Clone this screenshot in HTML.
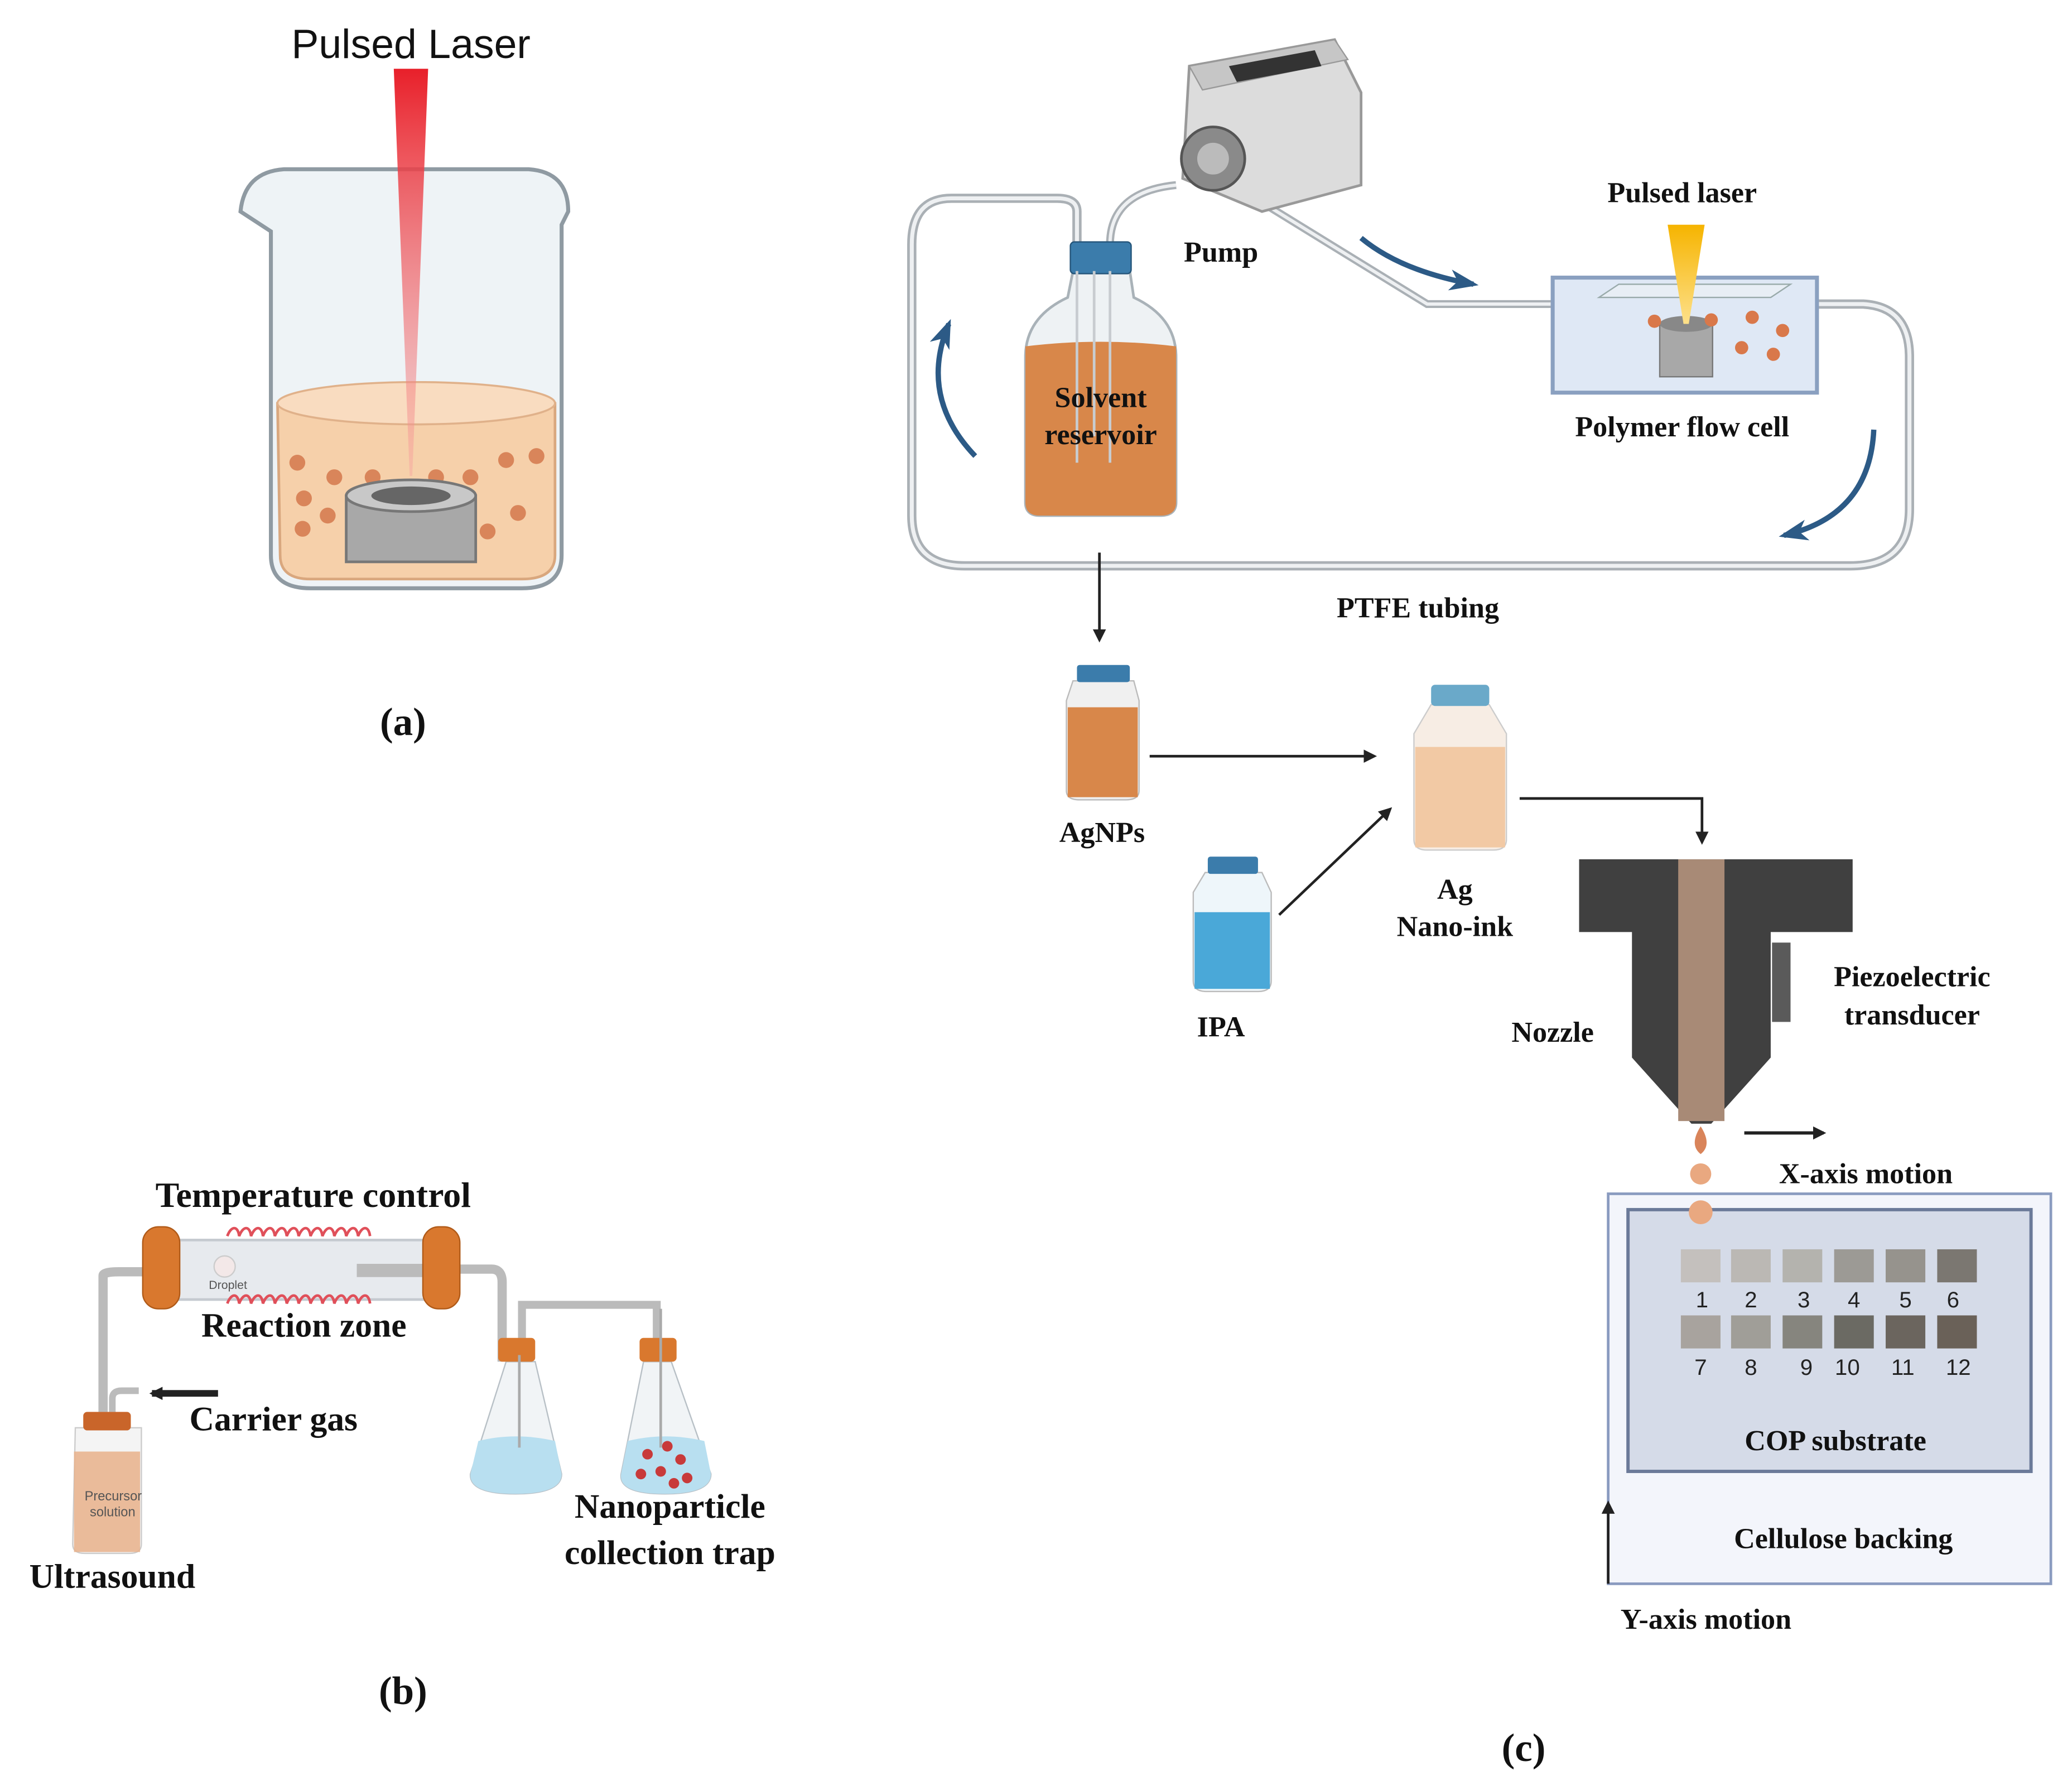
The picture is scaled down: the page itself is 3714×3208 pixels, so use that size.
<!DOCTYPE html>
<html><head><meta charset="utf-8"><style>
html,body{margin:0;padding:0;background:#fff;}
svg{display:block;}
.s{font-family:"Liberation Serif",serif;font-weight:bold;fill:#111;}
</style></head><body>
<svg width="3714" height="3208" viewBox="0 0 1568 1354" preserveAspectRatio="none" xmlns="http://www.w3.org/2000/svg">
<defs>
<marker id="ah" markerWidth="10" markerHeight="10" refX="8" refY="5" orient="auto" markerUnits="userSpaceOnUse"><path d="M0,0 L10,5 L0,10 z" fill="#222"/></marker>
<marker id="bh" markerWidth="22" markerHeight="16" refX="18" refY="8" orient="auto" markerUnits="userSpaceOnUse"><path d="M0,0 L22,8 L0,16 L6,8 z" fill="#2c5a86"/></marker>
<linearGradient id="beam" x1="0" y1="0" x2="0" y2="1"><stop offset="0" stop-color="#e8202a"/><stop offset="1" stop-color="#f6a0a0" stop-opacity="0.4"/></linearGradient>
<linearGradient id="ylaser" x1="0" y1="0" x2="0" y2="1"><stop offset="0" stop-color="#f6b400"/><stop offset="1" stop-color="#fde08a"/></linearGradient>
</defs>

<!-- (a) -->
<text x="311" y="44" font-family="Liberation Sans,sans-serif" font-size="31" text-anchor="middle" fill="#111">Pulsed Laser</text>
<path d="M182,160 Q185,130 215,128 L400,128 Q430,130 430,160 L425,170 L425,420 Q425,445 395,445 L235,445 Q205,445 205,420 L205,175 Z" fill="#eef3f6" stroke="#8f9aa2" stroke-width="3"/>
<path d="M210,305 Q310,280 420,305 L420,420 Q420,438 395,438 L235,438 Q212,438 212,420 Z" fill="#f6d0aa" stroke="#d9a77e" stroke-width="2"/>
<ellipse cx="315" cy="305" rx="105" ry="16" fill="#f9dcc0" stroke="#e0b18a" stroke-width="1.5"/>
<g fill="#d9855a"><circle cx="225" cy="350" r="6"/><circle cx="253" cy="361" r="6"/><circle cx="282" cy="361" r="6"/><circle cx="330" cy="361" r="6"/><circle cx="356" cy="361" r="6"/><circle cx="383" cy="348" r="6"/><circle cx="406" cy="345" r="6"/><circle cx="230" cy="377" r="6"/><circle cx="248" cy="390" r="6"/><circle cx="229" cy="400" r="6"/><circle cx="332" cy="410" r="6"/><circle cx="369" cy="402" r="6"/><circle cx="392" cy="388" r="6"/></g>
<rect x="262" y="375" width="98" height="50" fill="#a8a8a8" stroke="#777" stroke-width="2"/>
<ellipse cx="311" cy="375" rx="49" ry="12" fill="#c8c8c8" stroke="#777" stroke-width="2"/>
<ellipse cx="311" cy="375" rx="30" ry="7" fill="#666"/>
<polygon points="298,52 324,52 312,360 310,360" fill="url(#beam)"/>
<text x="305" y="556" class="s" font-size="30" text-anchor="middle" font-weight="normal">(<tspan font-weight="bold">a</tspan>)</text>

<!-- (b) -->
<text x="237" y="913" class="s" font-size="27" text-anchor="middle">Temperature control</text>
<path d="M78,1068 L78,965 Q78,962 90,962 L125,962" fill="none" stroke="#bbb" stroke-width="7"/>
<path d="M335,960 L372,960 Q380,960 380,970 L380,1030" fill="none" stroke="#bbb" stroke-width="7"/>
<path d="M395,1015 L395,987 L497,987 L497,1015" fill="none" stroke="#bbb" stroke-width="6"/>
<rect x="120" y="938" width="215" height="45" fill="#e7eaee" stroke="#c5cad0" stroke-width="2"/>
<rect x="270" y="956" width="60" height="10" fill="#bbb"/>
<circle cx="170" cy="958" r="8" fill="#f3e8e8" stroke="#ccc"/>
<text x="158" y="975" font-family="Liberation Sans,sans-serif" font-size="9" fill="#555">Droplet</text>
<g fill="none" stroke="#e0505a" stroke-width="2"><path d="M172,935 c3,-8 8,-8 9,0 c3,-8 8,-8 9,0 c3,-8 8,-8 9,0 c3,-8 8,-8 9,0 c3,-8 8,-8 9,0 c3,-8 8,-8 9,0 c3,-8 8,-8 9,0 c3,-8 8,-8 9,0 c3,-8 8,-8 9,0 c3,-8 8,-8 9,0 c3,-8 8,-8 9,0 c3,-8 8,-8 9,0"/><path d="M172,986 c3,-8 8,-8 9,0 c3,-8 8,-8 9,0 c3,-8 8,-8 9,0 c3,-8 8,-8 9,0 c3,-8 8,-8 9,0 c3,-8 8,-8 9,0 c3,-8 8,-8 9,0 c3,-8 8,-8 9,0 c3,-8 8,-8 9,0 c3,-8 8,-8 9,0 c3,-8 8,-8 9,0 c3,-8 8,-8 9,0"/></g>
<rect x="108" y="928" width="28" height="62" rx="12" fill="#d9782e" stroke="#b05a18"/>
<rect x="320" y="928" width="28" height="62" rx="12" fill="#d9782e" stroke="#b05a18"/>
<text x="230" y="1011" class="s" font-size="26" text-anchor="middle">Reaction zone</text>
<path d="M85,1068 L85,1058 Q85,1052 92,1052 L105,1052" fill="none" stroke="#bbb" stroke-width="5"/>
<line x1="165" y1="1054" x2="115" y2="1054" stroke="#222" stroke-width="5" marker-end="url(#ah)"/>
<text x="207" y="1082" class="s" font-size="26" text-anchor="middle">Carrier gas</text>
<path d="M57,1080 L107,1080 L107,1168 Q107,1175 98,1175 L64,1175 Q55,1175 55,1168 Z" fill="#f4f4f4" stroke="#ccc"/>
<rect x="56" y="1098" width="50" height="76" fill="#e8b08a" opacity="0.85"/>
<rect x="63" y="1068" width="36" height="14" rx="3" fill="#c9652a"/>
<text x="64" y="1135" font-family="Liberation Sans,sans-serif" font-size="10" fill="#555">Precursor</text>
<text x="68" y="1147" font-family="Liberation Sans,sans-serif" font-size="10" fill="#555">solution</text>
<text x="85" y="1201" class="s" font-size="26" text-anchor="middle">Ultrasound</text>
<path d="M383,1030 L405,1030 L425,1115 Q425,1130 390,1130 Q355,1130 356,1115 Z" fill="#f1f4f6" stroke="#b8c0c6"/>
<path d="M362,1090 Q390,1083 420,1090 L425,1115 Q425,1130 390,1130 Q355,1130 356,1115 Z" fill="#b8dff0"/>
<rect x="377" y="1012" width="28" height="18" rx="3" fill="#d9782e"/>
<path d="M487,1030 L508,1030 L538,1115 Q538,1130 503,1130 Q468,1130 470,1115 Z" fill="#f1f4f6" stroke="#b8c0c6"/>
<path d="M475,1090 Q503,1083 533,1090 L538,1115 Q538,1130 503,1130 Q468,1130 470,1115 Z" fill="#b8dff0"/>
<rect x="484" y="1012" width="28" height="18" rx="3" fill="#d9782e"/>
<g fill="#c83a3a"><circle cx="490" cy="1100" r="4"/><circle cx="505" cy="1094" r="4"/><circle cx="515" cy="1104" r="4"/><circle cx="485" cy="1115" r="4"/><circle cx="500" cy="1113" r="4"/><circle cx="520" cy="1118" r="4"/><circle cx="510" cy="1122" r="4"/></g>
<line x1="393" y1="1025" x2="393" y2="1095" stroke="#aaa" stroke-width="2"/><line x1="500" y1="990" x2="500" y2="1095" stroke="#aaa" stroke-width="2"/>
<text x="507" y="1148" class="s" font-size="26" text-anchor="middle">Nanoparticle</text>
<text x="507" y="1183" class="s" font-size="26" text-anchor="middle">collection trap</text>
<text x="305" y="1289" class="s" font-size="30" text-anchor="middle" font-weight="normal">(<tspan font-weight="bold">b</tspan>)</text>

<!-- (c) loop tubing -->
<path d="M815,185 L815,160 Q815,150 800,150 L720,150 Q690,150 690,185 L690,390 Q690,428 730,428 L1400,428 Q1445,428 1445,385 L1445,270 Q1445,232 1410,230 L1375,230" fill="none" stroke="#aab0b5" stroke-width="7"/>
<path d="M815,185 L815,160 Q815,150 800,150 L720,150 Q690,150 690,185 L690,390 Q690,428 730,428 L1400,428 Q1445,428 1445,385 L1445,270 Q1445,232 1410,230 L1375,230" fill="none" stroke="#eef0f2" stroke-width="3"/>
<path d="M840,185 Q840,145 890,140 M950,150 L1080,230 L1175,230" fill="none" stroke="#aab0b5" stroke-width="6"/>
<path d="M840,185 Q840,145 890,140 M950,150 L1080,230 L1175,230" fill="none" stroke="#eef0f2" stroke-width="2.5"/>
<!-- pump -->
<path d="M900,50 L1010,30 L1030,70 L1030,140 L955,160 L895,135 Z" fill="#dcdcdc" stroke="#999" stroke-width="2"/>
<path d="M900,50 L1010,30 L1020,45 L910,68 Z" fill="#c6c6c6" stroke="#999"/>
<path d="M930,50 L995,38 L1000,50 L936,62 Z" fill="#333"/>
<circle cx="918" cy="120" r="24" fill="#8a8a8a" stroke="#555" stroke-width="2"/>
<circle cx="918" cy="120" r="12" fill="#bbb"/>
<text x="924" y="198" class="s" font-size="22" text-anchor="middle">Pump</text>
<!-- blue arrows -->
<path d="M1030,180 Q1060,205 1115,215" fill="none" stroke="#2c5a86" stroke-width="4" marker-end="url(#bh)"/>
<path d="M738,345 Q695,300 718,245" fill="none" stroke="#2c5a86" stroke-width="4" marker-end="url(#bh)"/>
<path d="M1418,325 Q1415,390 1350,405" fill="none" stroke="#2c5a86" stroke-width="4" marker-end="url(#bh)"/>
<!-- solvent bottle -->
<path d="M812,205 L855,205 L858,225 Q890,240 890,270 L890,380 Q890,390 878,390 L787,390 Q776,390 776,380 L776,270 Q776,240 808,225 Z" fill="#eef2f4" stroke="#a9b2b8" stroke-width="2"/>
<path d="M776,262 Q833,255 890,262 L890,380 Q890,390 878,390 L787,390 Q776,390 776,380 Z" fill="#d8874a"/>
<rect x="810" y="183" width="46" height="24" rx="3" fill="#3b7cab" stroke="#24557a"/>
<path d="M815,205 L815,350 M828,205 L828,330 M840,205 L840,350" stroke="#c8ccd0" stroke-width="2" fill="none"/>
<text x="833" y="308" class="s" font-size="22" text-anchor="middle">Solvent</text>
<text x="833" y="336" class="s" font-size="22" text-anchor="middle">reservoir</text>
<!-- flow cell -->
<rect x="1175" y="210" width="200" height="87" fill="#dfe8f5" stroke="#8aa0c0" stroke-width="3"/>
<polygon points="1210,225 1340,225 1355,215 1225,215" fill="#e8eef5" stroke="#9aa"/>
<rect x="1256" y="245" width="40" height="40" fill="#a8a8a8" stroke="#777"/>
<ellipse cx="1276" cy="245" rx="20" ry="6" fill="#888"/>
<polygon points="1262,170 1290,170 1278,245 1274,245" fill="url(#ylaser)"/>
<g fill="#d9784a"><circle cx="1252" cy="243" r="5"/><circle cx="1295" cy="242" r="5"/><circle cx="1326" cy="240" r="5"/><circle cx="1349" cy="250" r="5"/><circle cx="1318" cy="263" r="5"/><circle cx="1342" cy="268" r="5"/></g>
<text x="1273" y="153" class="s" font-size="22" text-anchor="middle">Pulsed laser</text>
<text x="1273" y="330" class="s" font-size="22" text-anchor="middle">Polymer flow cell</text>
<text x="1073" y="467" class="s" font-size="22" text-anchor="middle">PTFE tubing</text>
<!-- arrows -->
<line x1="832" y1="418" x2="832" y2="484" stroke="#222" stroke-width="2" marker-end="url(#ah)"/>
<line x1="870" y1="572" x2="1040" y2="572" stroke="#222" stroke-width="2" marker-end="url(#ah)"/>
<line x1="968" y1="692" x2="1052" y2="612" stroke="#222" stroke-width="2" marker-end="url(#ah)"/>
<path d="M1150,604 L1288,604 L1288,637" fill="none" stroke="#222" stroke-width="2" marker-end="url(#ah)"/>
<!-- AgNPs -->
<path d="M812,515 L858,515 L862,530 L862,598 Q862,605 852,605 L817,605 Q807,605 807,598 L807,530 Z" fill="#f0f0f0" stroke="#bbb"/>
<rect x="808" y="535" width="53" height="68" fill="#d8874a"/>
<rect x="815" y="503" width="40" height="13" rx="2" fill="#3b7cab"/>
<text x="834" y="637" class="s" font-size="22" text-anchor="middle">AgNPs</text>
<!-- Ag nano-ink -->
<path d="M1083,533 L1127,533 L1140,555 L1140,635 Q1140,643 1130,643 L1080,643 Q1070,643 1070,635 L1070,555 Z" fill="#f7ede4" stroke="#ccc"/>
<rect x="1071" y="565" width="68" height="76" fill="#f2c9a4"/>
<rect x="1083" y="518" width="44" height="16" rx="3" fill="#6aa9c9"/>
<text x="1101" y="680" class="s" font-size="22" text-anchor="middle">Ag</text>
<text x="1101" y="708" class="s" font-size="22" text-anchor="middle">Nano-ink</text>
<!-- IPA -->
<path d="M912,660 L955,660 L962,675 L962,742 Q962,750 952,750 L913,750 Q903,750 903,742 L903,675 Z" fill="#eef6fa" stroke="#bbb"/>
<rect x="904" y="690" width="57" height="58" fill="#4aa8d8"/>
<rect x="914" y="648" width="38" height="13" rx="2" fill="#3b7cab"/>
<text x="924" y="784" class="s" font-size="22" text-anchor="middle">IPA</text>
<!-- nozzle -->
<path d="M1195,650 L1402,650 L1402,705 L1340,705 L1340,800 L1295,850 L1280,850 L1235,800 L1235,705 L1195,705 Z" fill="#404040"/>
<rect x="1270" y="650" width="35" height="198" fill="#a88a76"/>
<rect x="1341" y="713" width="14" height="60" fill="#5a5a5a"/>
<text x="1447" y="746" class="s" font-size="22" text-anchor="middle">Piezoelectric</text>
<text x="1447" y="775" class="s" font-size="22" text-anchor="middle">transducer</text>
<text x="1175" y="788" class="s" font-size="22" text-anchor="middle">Nozzle</text>
<path d="M1287,852 Q1278,866 1287,873 Q1296,866 1287,852 Z" fill="#d9845a"/>
<circle cx="1287" cy="888" r="8" fill="#e9a880"/>
<circle cx="1287" cy="917" r="9" fill="#e9a880"/>
<line x1="1320" y1="857" x2="1380" y2="857" stroke="#222" stroke-width="2.5" marker-end="url(#ah)"/>
<text x="1412" y="895" class="s" font-size="22" text-anchor="middle">X-axis motion</text>
<!-- backing -->
<rect x="1217" y="903" width="335" height="295" fill="#f3f5fb" stroke="#8a9bc0" stroke-width="2"/>
<rect x="1232" y="915" width="305" height="198" fill="#d5dbe8" stroke="#6b7a99" stroke-width="2.5"/>
<circle cx="1287" cy="917" r="9" fill="#e9a880"/>
<g>
<rect x="1272" y="945" width="30" height="25" fill="#c4c0bd"/><rect x="1310" y="945" width="30" height="25" fill="#bbb8b4"/><rect x="1349" y="945" width="30" height="25" fill="#b4b3ae"/><rect x="1388" y="945" width="30" height="25" fill="#9c9a95"/><rect x="1427" y="945" width="30" height="25" fill="#96938d"/><rect x="1466" y="945" width="30" height="25" fill="#7b7771"/>
<rect x="1272" y="995" width="30" height="25" fill="#a8a39e"/><rect x="1310" y="995" width="30" height="25" fill="#a09e98"/><rect x="1349" y="995" width="30" height="25" fill="#86857e"/><rect x="1388" y="995" width="30" height="25" fill="#6b6a63"/><rect x="1427" y="995" width="30" height="25" fill="#6b655e"/><rect x="1466" y="995" width="30" height="25" fill="#6a6158"/>
</g>
<g font-family="Liberation Sans,sans-serif" font-size="17" fill="#222" text-anchor="middle">
<text x="1288" y="989">1</text><text x="1325" y="989">2</text><text x="1365" y="989">3</text><text x="1403" y="989">4</text><text x="1442" y="989">5</text><text x="1478" y="989">6</text>
<text x="1287" y="1040">7</text><text x="1325" y="1040">8</text><text x="1367" y="1040">9</text><text x="1398" y="1040">10</text><text x="1440" y="1040">11</text><text x="1482" y="1040">12</text>
</g>
<text x="1389" y="1097" class="s" font-size="22" text-anchor="middle">COP substrate</text>
<text x="1395" y="1171" class="s" font-size="22" text-anchor="middle">Cellulose backing</text>
<line x1="1217" y1="1198" x2="1217" y2="1137" stroke="#222" stroke-width="2" marker-end="url(#ah)"/>
<text x="1291" y="1232" class="s" font-size="22" text-anchor="middle">Y-axis motion</text>
<text x="1153" y="1332" class="s" font-size="30" text-anchor="middle" font-weight="normal">(<tspan font-weight="bold">c</tspan>)</text>
</svg>
</body></html>
